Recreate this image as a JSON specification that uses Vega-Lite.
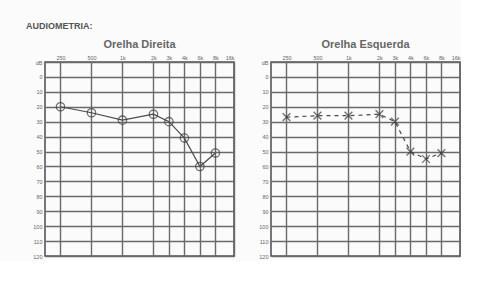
{
  "$schema": "https://vega.github.io/schema/vega-lite/v6.json",
  "background": "#fbfbfb",
  "padding": {"left": 26, "top": 22, "right": 0, "bottom": 0},
  "title": {"text": "AUDIOMETRIA:", "anchor": "start", "fontSize": 9, "font": "Liberation Sans", "fontWeight": "bold", "color": "#555555", "offset": 7, "dx": -6},
  "datasets": {
    "pts": [
      {"ear": "D", "freq": "250", "pos": 0, "db": 20},
      {"ear": "D", "freq": "500", "pos": 1, "db": 24},
      {"ear": "D", "freq": "1k", "pos": 2, "db": 29},
      {"ear": "D", "freq": "2k", "pos": 3, "db": 25},
      {"ear": "D", "freq": "3k", "pos": 3.5, "db": 30},
      {"ear": "D", "freq": "4k", "pos": 4, "db": 41},
      {"ear": "D", "freq": "6k", "pos": 4.5, "db": 60},
      {"ear": "D", "freq": "8k", "pos": 5, "db": 51},
      {"ear": "E", "freq": "250", "pos": 0, "db": 27},
      {"ear": "E", "freq": "500", "pos": 1, "db": 26},
      {"ear": "E", "freq": "1k", "pos": 2, "db": 26},
      {"ear": "E", "freq": "2k", "pos": 3, "db": 25},
      {"ear": "E", "freq": "3k", "pos": 3.5, "db": 30},
      {"ear": "E", "freq": "4k", "pos": 4, "db": 50},
      {"ear": "E", "freq": "6k", "pos": 4.5, "db": 55},
      {"ear": "E", "freq": "8k", "pos": 5, "db": 51}
    ]
  },
  "config": {
    "view": {"stroke": "#555555", "strokeWidth": 1.6},
    "axis": {"gridColor": "#6a6a6a", "gridWidth": 1.4, "gridOpacity": 1, "domain": false, "ticks": false, "labelFont": "Liberation Sans", "labelFontSize": 5.5, "labelColor": "#666666", "title": null, "labelPadding": 3},
    "title": {"font": "Liberation Sans", "fontSize": 11, "fontWeight": "bold", "color": "#666666", "offset": 5}
  },
  "spacing": 23,
  "hconcat": [
    {
      "width": 189, "height": 194,
      "title": "Orelha Direita",
      "data": {"name": "pts"},
      "transform": [{"filter": "datum.ear == 'D'"}],
      "encoding": {
        "x": {"field": "pos", "type": "quantitative", "scale": {"domain": [-0.5, 5.6], "nice": false, "zero": false},
          "axis": {"orient": "top", "values": [0, 1, 2, 3, 3.5, 4, 4.5, 5, 5.6], "labelExpr": "{'0':'250','1':'500','2':'1k','3':'2k','3.5':'3k','4':'4k','4.5':'6k','5':'8k','5.6':'16k'}[datum.value + '']", "labelPadding": 2}},
        "y": {"field": "db", "type": "quantitative", "scale": {"domain": [-10, 120], "reverse": true, "nice": false, "zero": false},
          "axis": {"values": [-10, 0, 10, 20, 30, 40, 50, 60, 70, 80, 90, 100, 110, 120], "labelExpr": "datum.value == -10 ? 'dB' : datum.label"}}
      },
      "layer": [
        {"mark": {"type": "line", "color": "#4a4a4a", "strokeWidth": 1.2}},
        {"mark": {"type": "point", "shape": "circle", "size": 70, "filled": false, "color": "#3a3a3a", "strokeWidth": 1.3}}
      ]
    },
    {
      "width": 189, "height": 194,
      "title": "Orelha Esquerda",
      "data": {"name": "pts"},
      "transform": [{"filter": "datum.ear == 'E'"}],
      "encoding": {
        "x": {"field": "pos", "type": "quantitative", "scale": {"domain": [-0.5, 5.6], "nice": false, "zero": false},
          "axis": {"orient": "top", "values": [0, 1, 2, 3, 3.5, 4, 4.5, 5, 5.6], "labelExpr": "{'0':'250','1':'500','2':'1k','3':'2k','3.5':'3k','4':'4k','4.5':'6k','5':'8k','5.6':'16k'}[datum.value + '']", "labelPadding": 2}},
        "y": {"field": "db", "type": "quantitative", "scale": {"domain": [-10, 120], "reverse": true, "nice": false, "zero": false},
          "axis": {"values": [-10, 0, 10, 20, 30, 40, 50, 60, 70, 80, 90, 100, 110, 120], "labelExpr": "datum.value == -10 ? 'dB' : datum.label"}}
      },
      "layer": [
        {"mark": {"type": "line", "color": "#4a4a4a", "strokeWidth": 1.2, "strokeDash": [4, 4]}},
        {"mark": {"type": "point", "shape": "M-1,-1L1,1M1,-1L-1,1", "size": 60, "filled": false, "color": "#3a3a3a", "strokeWidth": 1.4}}
      ]
    }
  ]
}
